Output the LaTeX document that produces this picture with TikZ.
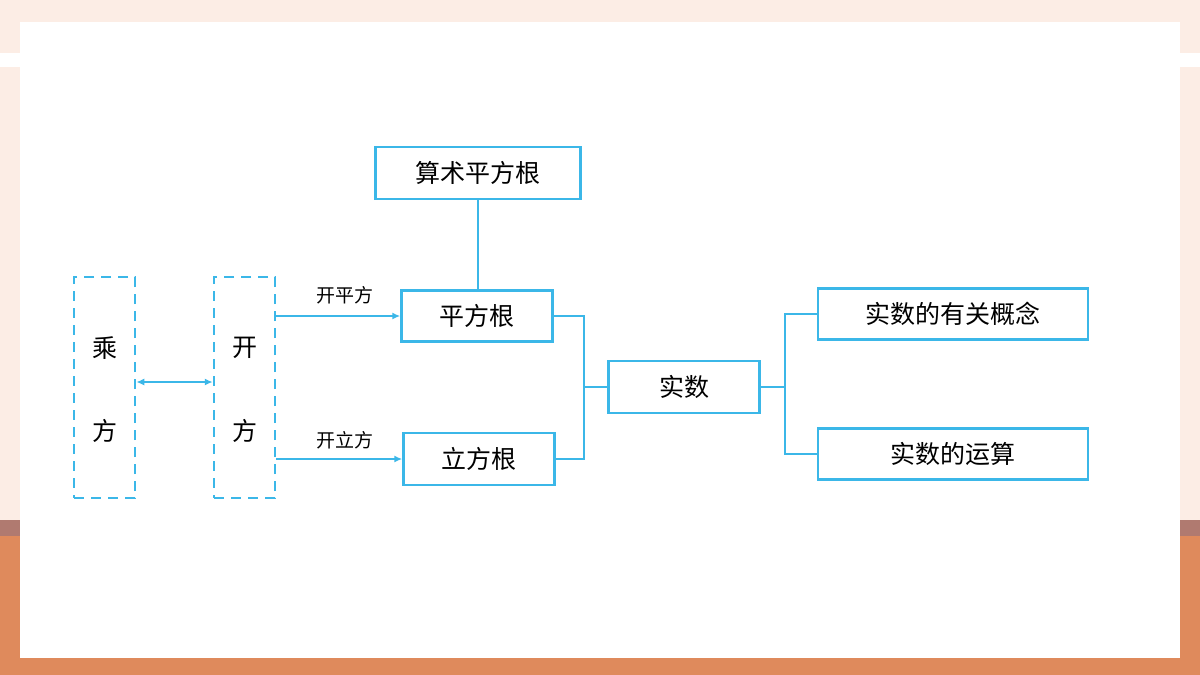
\documentclass[tikz,border=0pt]{standalone}
\usepackage{fontspec}
\newfontfamily\cjk{Noto Sans CJK SC}
\usetikzlibrary{arrows.meta}
\definecolor{ln}{HTML}{3BB7E8}
\definecolor{peach}{HTML}{FCEDE5}
\definecolor{org}{HTML}{DF8A5C}
\definecolor{brn}{HTML}{B07A70}
\begin{document}
\begin{tikzpicture}[x=1pt,y=-1pt,
 bx/.style={draw=ln,line width=2.5pt,fill=white,inner sep=0pt,font=\cjk\fontsize{25}{25}\selectfont},
 dbx/.style={draw=ln,line width=2.5pt,dashed,dash pattern=on 10pt off 7pt,inner sep=0pt},
 cn/.style={draw=ln,line width=2.2pt},
 lab/.style={font=\cjk\fontsize{19}{19}\selectfont},
 ar/.style={cn,-{Latex[length=8pt,width=7pt]}}]
\useasboundingbox (0,0) rectangle (1200,675);
\fill[peach] (0,0) rectangle (1200,675);
\fill[brn] (0,520) rectangle (1200,536);
\fill[org] (0,536) rectangle (1200,675);
\fill[white] (0,53) rectangle (1200,67);
\fill[white] (20,22) rectangle (1180,658);
\node[bx,minimum width=205pt,minimum height=52pt] (s) at (478,173) {算术平方根};
\node[bx,minimum width=151pt,minimum height=51pt] (p) at (477,316) {平方根};
\node[bx,minimum width=151pt,minimum height=52pt] (l) at (479,459) {立方根};
\node[bx,minimum width=151pt,minimum height=52pt] (r) at (684,387) {实数};
\node[bx,minimum width=270pt,minimum height=51pt] (g) at (953,314) {实数的有关概念};
\node[bx,minimum width=270pt,minimum height=51pt] (y) at (953,454) {实数的运算};
\node[dbx,minimum width=61pt,minimum height=221pt] (c) at (104.5,387.5) {};
\node[dbx,minimum width=61pt,minimum height=221pt] (k) at (244.5,387.5) {};
\node[font=\cjk\fontsize{25}{25}\selectfont] (c1) at (104.5,348) {乘};
\node[font=\cjk\fontsize{25}{25}\selectfont] (c2) at (104.5,431) {方};
\node[font=\cjk\fontsize{25}{25}\selectfont] (k1) at (244.5,348) {开};
\node[font=\cjk\fontsize{25}{25}\selectfont] (k2) at (244.5,431) {方};
\draw[cn,{Latex[length=8pt,width=7pt]}-{Latex[length=8pt,width=7pt]}] (c.east |- 0,382) -- (k.west |- 0,382);
\coordinate (k3) at (k.east |- p);
\coordinate (k4) at (k.east |- l);
\draw[ar] (k3) -- (p.west);
\draw[ar] (k4) -- (l.west);
\node[lab] (t1) at (345,295) {开平方};
\node[lab] (t2) at (345,440) {开立方};
\draw[cn] (s.south) -- (s.south |- p.north);
\coordinate (b1) at (584,316);
\coordinate (b2) at (584,459);
\draw[cn] (p.east) -- (b1) -- (b2) -- (l.east);
\draw[cn] (584,387) -- (r.west);
\coordinate (d1) at (785,314);
\coordinate (d2) at (785,454);
\draw[cn] (g.west) -- (d1) -- (d2) -- (y.west);
\draw[cn] (r.east) -- (785,387);
\end{tikzpicture}
\end{document}
